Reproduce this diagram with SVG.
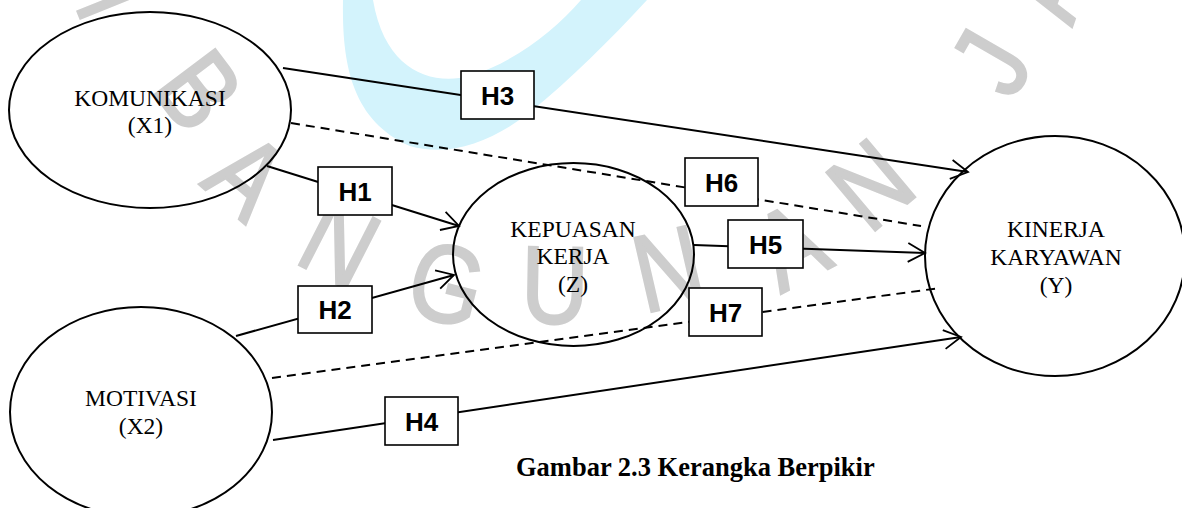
<svg xmlns="http://www.w3.org/2000/svg" width="1182" height="508" viewBox="0 0 1182 508">
<style>
.wm{font-family:"Liberation Sans",Arial,sans-serif;font-size:110px;fill:#cdcdcd;stroke:#cdcdcd;stroke-width:2.5px;text-anchor:middle}
.node{fill:none;stroke:#000;stroke-width:2}
.lbl{font-family:"Liberation Serif","Times New Roman",serif;font-size:23.5px;fill:#000;text-anchor:middle}
.box{fill:#fff;stroke:#000;stroke-width:1.6}
.h{font-family:"Liberation Sans",Arial,sans-serif;font-weight:bold;font-size:26px;fill:#000;text-anchor:middle}
.ln{stroke:#000;stroke-width:2;fill:none}
.arr{marker-end:url(#ah)}
.dash{stroke-dasharray:9 6}
.cap{font-family:"Liberation Serif","Times New Roman",serif;font-weight:bold;font-size:26.5px;fill:#000}
</style>
<defs>
<marker id="ah" viewBox="0 0 22 22" refX="20" refY="11" markerWidth="22" markerHeight="22" markerUnits="userSpaceOnUse" orient="auto">
<path d="M3,1.5 L20,11 L3,20.5" fill="none" stroke="#000" stroke-width="1.8"/>
</marker>
</defs>
<rect width="1182" height="508" fill="#fff"/>
<g id="watermark">
<path d="M343,0 C342,60 350,120 410,146 C450,158 495,140 530,112 C570,80 610,40 647,0 L581,0 C555,30 515,62 470,76 C430,86 385,70 373,0 Z" fill="#d3f3fc"/>
<text class="wm" transform="translate(105,-25) rotate(68) scale(0.85,1)" x="0" y="39">M</text>
<text class="wm" transform="translate(200,90) rotate(53) scale(0.85,1)" x="0" y="39">B</text>
<text class="wm" transform="translate(248,175) rotate(41) scale(0.85,1)" x="0" y="39">A</text>
<text class="wm" transform="translate(340,242) rotate(27) scale(0.85,1)" x="0" y="39">N</text>
<text class="wm" transform="translate(447,283) rotate(14) scale(0.85,1)" x="0" y="39">G</text>
<text class="wm" transform="translate(555,284) rotate(1) scale(0.85,1)" x="0" y="39">U</text>
<text class="wm" transform="translate(668,268) rotate(-13) scale(0.85,1)" x="0" y="39">N</text>
<text class="wm" transform="translate(790,245) rotate(-28) scale(0.85,1)" x="0" y="39">A</text>
<text class="wm" transform="translate(870,184) rotate(-40) scale(0.85,1)" x="0" y="39">N</text>
<text class="wm" transform="translate(990,62) rotate(-60) scale(0.85,1)" x="0" y="39">J</text>
<text class="wm" transform="translate(1045,-15) rotate(-71) scale(0.85,1)" x="0" y="39">A</text>
</g>
<g id="connectors">
<line class="ln arr" x1="283" y1="68" x2="968" y2="172"/>
<line class="ln dash" x1="291" y1="123" x2="921" y2="226"/>
<line class="ln arr" x1="267" y1="166" x2="459" y2="226"/>
<line class="ln arr" x1="694" y1="245" x2="925" y2="253"/>
<line class="ln arr" x1="236" y1="336" x2="454" y2="275"/>
<line class="ln dash" x1="272" y1="378" x2="940" y2="288"/>
<line class="ln arr" x1="273" y1="440" x2="961" y2="337"/>
</g>
<g id="node-x1">
<ellipse class="node" cx="150" cy="110" rx="141" ry="98"/>
<text class="lbl" x="150" y="106">KOMUNIKASI</text>
<text class="lbl" x="150" y="133">(X1)</text>
</g>
<g id="node-x2">
<ellipse class="node" cx="141" cy="412" rx="131" ry="105"/>
<text class="lbl" x="141" y="406">MOTIVASI</text>
<text class="lbl" x="141" y="434">(X2)</text>
</g>
<g id="node-z">
<ellipse class="node" cx="573.5" cy="254.5" rx="120.5" ry="91.5"/>
<text class="lbl" x="573" y="236.5">KEPUASAN</text>
<text class="lbl" x="573" y="264">KERJA</text>
<text class="lbl" x="573" y="292">(Z)</text>
</g>
<g id="node-y">
<ellipse class="node" cx="1055" cy="256" rx="130" ry="120"/>
<text class="lbl" x="1056" y="237">KINERJA</text>
<text class="lbl" x="1056" y="265">KARYAWAN</text>
<text class="lbl" x="1056" y="293">(Y)</text>
</g>
<g id="label-h1"><rect class="box" x="318" y="167" width="74" height="48"/><text class="h" x="355" y="200.5">H1</text></g>
<g id="label-h2"><rect class="box" x="298" y="286" width="74" height="47"/><text class="h" x="335" y="319">H2</text></g>
<g id="label-h3"><rect class="box" x="461" y="71" width="73" height="48"/><text class="h" x="497.5" y="104.5">H3</text></g>
<g id="label-h4"><rect class="box" x="385" y="397" width="73" height="48"/><text class="h" x="421.5" y="430.5">H4</text></g>
<g id="label-h5"><rect class="box" x="728" y="220" width="75" height="48"/><text class="h" x="765.5" y="253.5">H5</text></g>
<g id="label-h6"><rect class="box" x="685" y="158" width="73" height="48"/><text class="h" x="721.5" y="191.5">H6</text></g>
<g id="label-h7"><rect class="box" x="689" y="288" width="73" height="48"/><text class="h" x="725.5" y="321.5">H7</text></g>
<g id="caption"><text class="cap" x="516" y="476">Gambar 2.3 Kerangka Berpikir</text></g>
</svg>
